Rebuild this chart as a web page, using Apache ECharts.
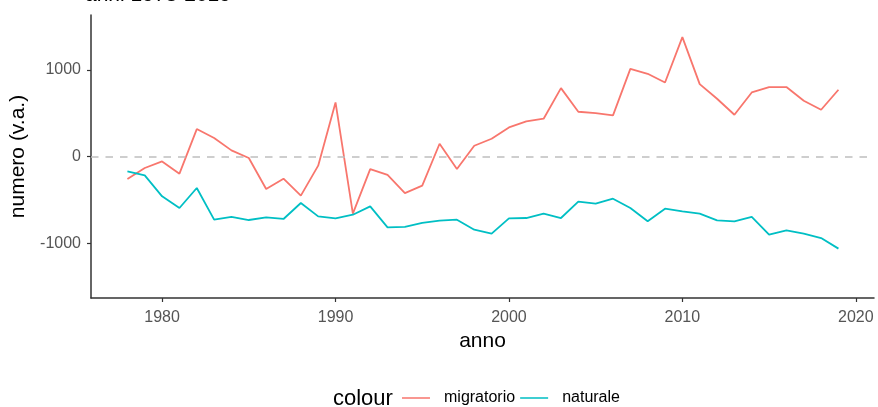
<!DOCTYPE html>
<html><head><meta charset="utf-8">
<script src="https://cdn.jsdelivr.net/npm/echarts@6/dist/echarts.min.js"></script>
<style>html,body{margin:0;padding:0;background:#fff}#c{width:878px;height:407px}</style>
</head><body><div id="c"></div>
<script>
const years = [];
for (let y = 1978; y <= 2019; y++) years.push(y);
const migratorio = [-257,-130,-54,-195,318,215,73,-15,-372,-253,-448,-103,624,-655,-142,-210,-418,-333,149,-142,126,207,337,406,437,789,517,502,475,1011,954,854,1375,835,667,483,739,801,801,644,540,770];
const naturale = [-169,-215,-456,-590,-360,-724,-693,-728,-697,-716,-532,-686,-709,-667,-571,-812,-808,-762,-736,-724,-839,-885,-709,-705,-655,-705,-517,-540,-483,-590,-743,-598,-628,-655,-732,-743,-693,-897,-847,-885,-935,-1057];
const xTicks = [1980,1990,2000,2010,2020];
const yTicks = [-1000,0,1000];
const seriesNames = ['migratorio','naturale'];
const colors = ['#F8766D','#00BFC4'];
const font = 'Liberation Sans, Arial, sans-serif';

const chart = echarts.init(document.getElementById('c'));
chart.setOption({
  animation:false,
  textStyle:{fontFamily:font},
  title:{text:'anni 1978-2019',left:80,top:-20,textStyle:{fontSize:21,fontWeight:'normal',color:'#000',fontFamily:font}},
  grid:{left:91,top:15,right:4,bottom:109},
  xAxis:{type:'value',min:1975.9,max:2021.05,
    name:'anno',nameLocation:'middle',nameGap:32,nameTextStyle:{fontSize:21,color:'#000'},
    axisLine:{show:true,onZero:false,lineStyle:{color:'#333',width:1.5}},
    axisTick:{show:true,length:4,customValues:xTicks,lineStyle:{color:'#333',width:1.2}},
    axisLabel:{customValues:xTicks,fontSize:16,color:'#555',margin:12,formatter:v=>String(v)},
    splitLine:{show:false}},
  yAxis:{type:'value',min:-1625,max:1630,
    name:'numero (v.a.)',nameLocation:'middle',nameGap:55,nameTextStyle:{fontSize:21,color:'#000'},
    axisLine:{show:true,onZero:false,lineStyle:{color:'#333',width:1.5}},
    axisTick:{show:true,length:4,customValues:yTicks,lineStyle:{color:'#333',width:1.2}},
    axisLabel:{customValues:yTicks,fontSize:16,color:'#555',margin:10,formatter:v=>String(v)},
    splitLine:{show:false}},
  legend:{bottom:-4,left:397,itemGap:5,itemWidth:37,itemHeight:10,
    icon:'path://M0,4.2h28v1.6h-28zM37,5h0.01v0.01h-0.01z',
    textStyle:{fontSize:16,color:'#000'},
    data:seriesNames},
  graphic:[{type:'text',left:333,bottom:-3,style:{text:'colour',fontSize:22,fill:'#000',fontFamily:font}}],
  series:[
    {name:seriesNames[0],type:'line',data:years.map((y,i)=>[y,migratorio[i]]),showSymbol:false,
      lineStyle:{color:colors[0],width:1.8},itemStyle:{color:colors[0]},
      markLine:{silent:true,symbol:'none',label:{show:false},
        lineStyle:{color:'#BEBEBE',type:[7.5,7],width:1.5},data:[{yAxis:0}]}},
    {name:seriesNames[1],type:'line',data:years.map((y,i)=>[y,naturale[i]]),showSymbol:false,
      lineStyle:{color:colors[1],width:1.8},itemStyle:{color:colors[1]}}
  ]
});
</script></body></html>
